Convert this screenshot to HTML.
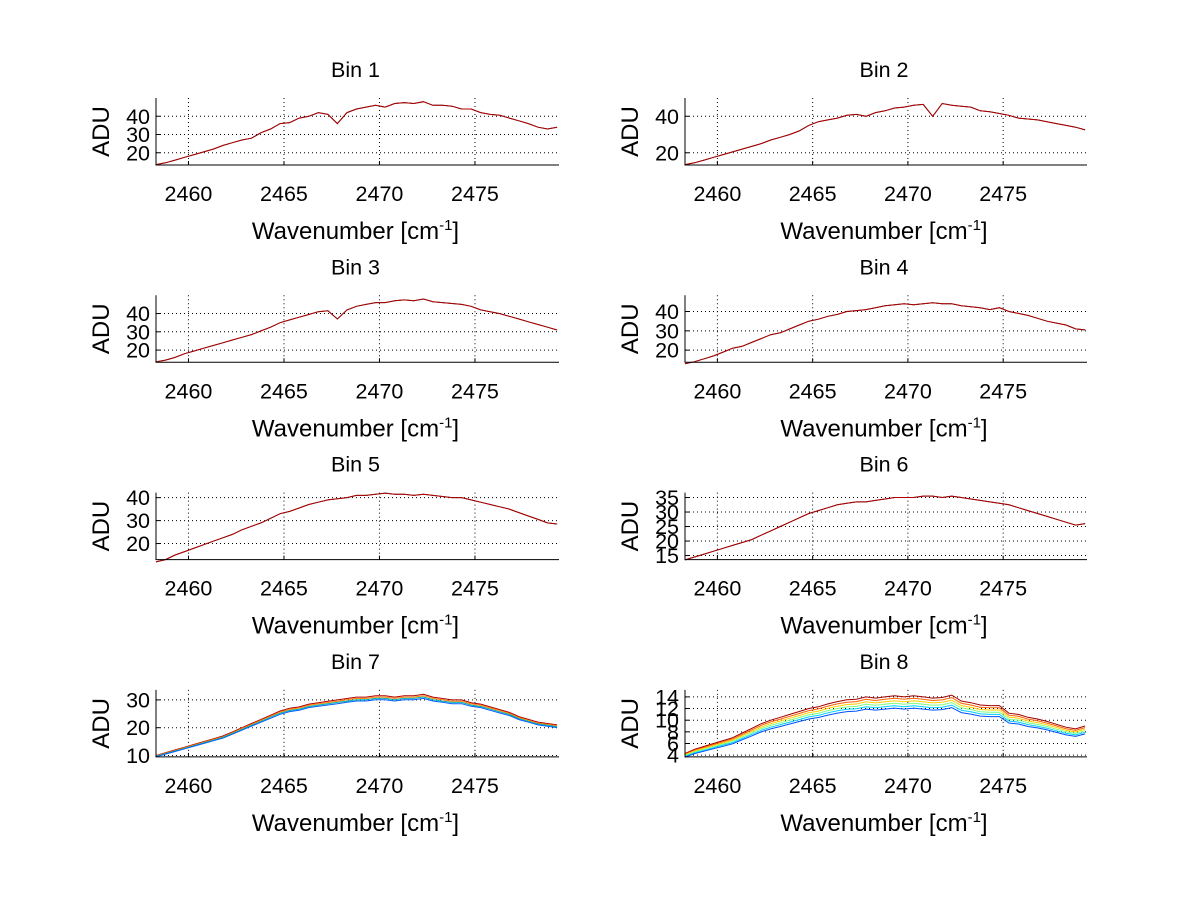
<!DOCTYPE html>
<html><head><meta charset="utf-8">
<style>
html,body{margin:0;padding:0;background:#fff;}
svg{display:block;font-family:"Liberation Sans",sans-serif;}
</style></head>
<body>
<svg id="fig" width="1200" height="901" viewBox="0 0 1200 901" xmlns="http://www.w3.org/2000/svg"></svg>
<script>
const xStart = 2458.3;
const xStep = 0.5;
const xTicks = [2460, 2465, 2470, 2475];
const bin1 = [13.5,14.5,16,17.5,19,20.5,22,24,25.5,27,28,31,33,36,36.5,39,40,42,41,36,42,44,45,46,45,47,47.5,47,48,46,46,45.5,44,44,42,41,40.5,39,37.5,36,34,33,34];
const bin2 = [13.5,14.5,16,17.5,19,20.5,22,23.5,25,27,28.5,30,32,35,37,38,39,40.5,41,40,42,43,44.5,45,46,46.5,40,47,46,45.5,45,43,42.5,41.5,40.5,39,38.5,38,37,36,35,34,32.5];
const bin3 = [13.5,14.5,16,18,19.5,21,22.5,24,25.5,27,28.5,30.5,32.5,35,36.5,38,39.5,41,41.5,37,42,44,45,46,46,47,47.5,47,48,46.5,46,45.5,45,44,42,41,40,38.5,37,35.5,34,32.5,31];
const bin4 = [13,14,15.5,17,19,21,22,24,26,28,29,31,33,35,36,37.5,38.5,40,40.5,41,42,43,43.5,44,43.5,44,44.5,44,44,43,42.5,42,41,42,40,39,38,36.5,35,34,33,31,30.5];
const bin5 = [12,13,15,16.5,18,19.5,21,22.5,24,26,27.5,29,31,33,34,35.5,37,38,39,39.5,40,41,41,41.5,42,41.5,41.5,41,41.5,41,40.5,40,40,39,38,37,36,35,33.5,32,30.5,29,28.5];
const bin6 = [13.5,14.5,15.5,16.5,17.5,18.5,19.5,20.5,22,23.5,25,26.5,28,29.5,30.5,31.5,32.5,33,33.5,33.5,34,34.5,35,35,35,35.5,35.5,35,35.5,35,34.5,34,33.5,33,32.5,31.5,30.5,29.5,28.5,27.5,26.5,25.5,26];
const bin7 = [10,11,12,13,14,15,16,17,18.5,20,21.5,23,24.5,26,27,27.5,28.5,29,29.5,30,30.5,31,31,31.5,31.5,31,31.5,31.5,32,31,30.5,30,30,29,28.5,27.5,26.5,25.5,24,23,22,21.5,21];
const bin8 = [4.3,5,5.5,6,6.5,7,7.8,8.6,9.4,10,10.5,11,11.5,12,12.3,12.8,13.2,13.5,13.6,14,13.8,14,14.2,14,14.2,14,13.8,13.9,14.3,13.3,13,12.6,12.5,12.5,11.2,11,10.5,10.2,9.8,9.3,8.8,8.5,9];
const factorsSingle = [1.0, 1.0];
const factors7 = [1.0, 0.985, 0.97, 0.955];
const factors8 = [1.0, 0.97, 0.94, 0.91, 0.88, 0.85];
const yTicks = [[20,30,40],[20,40],[20,30,40],[20,30,40],[20,30,40],[15,20,25,30,35],[10,20,30],[4,6,8,10,12,14]];
const yLims = [[13.3,50],[13.3,50],[13.3,50],[13.7,48.4],[13,42.2],[13.6,36.7],[9.5,33.6],[3.7,15.2]];

const NS = "http://www.w3.org/2000/svg";
const svg = document.getElementById('fig');
function mk(tag, attrs, parent){const e=document.createElementNS(NS,tag);for(const k in attrs)e.setAttribute(k,attrs[k]);(parent||svg).appendChild(e);return e;}

const bins = [bin1,bin2,bin3,bin4,bin5,bin6,bin7,bin8];
const factorSets = [factorsSingle,factorsSingle,factorsSingle,factorsSingle,factorsSingle,factorsSingle,factors7,factors8];
const colorsSingle = ['#222','#b00000'];
const colors7 = ['#b00000','#ff8000','#00b0b0','#0060ff'];
const colors8 = ['#a00000','#ff6000','#ffd000','#80ff80','#00d0ff','#0050ff'];
const xMin = 2458.3, xMax = 2479.4;

bins.forEach((data, b) => {
  const col = b % 2, row = Math.floor(b / 2);
  const L = col ? 685 : 156, R = col ? 1087 : 559;
  const T = 98 + row * 197.3, B = T + 67;
  const xs = v => L + (v - xMin) / (xMax - xMin) * (R - L);
  const ys = v => B - (v - yLims[b][0]) / (yLims[b][1] - yLims[b][0]) * (B - T);
  const g = mk('g', {});
  
  
  xTicks.forEach(t => {
    const l = mk('line', {x1:xs(t),x2:xs(t),y1:T,y2:B,stroke:'#000','stroke-width':1,'stroke-dasharray':'1,3'}, g);
    
    
    mk('line', {x1:xs(t),x2:xs(t),y1:B,y2:B-4,stroke:'#000'}, g);
    const tx = mk('text', {x:xs(t),y:B+36,'text-anchor':'middle','font-size':21.5}, g);
    tx.textContent = t;
    
    
  });
  yTicks[b].forEach(t => {
    const l = mk('line', {x1:L,x2:R,y1:ys(t),y2:ys(t),stroke:'#000','stroke-width':1,'stroke-dasharray':'1,3'}, g);
    
    
    mk('line', {x1:L,x2:L+4,y1:ys(t),y2:ys(t),stroke:'#000'}, g);
    const tx = mk('text', {x:L-6,y:ys(t)+7.5,'text-anchor':'end','font-size':21.5}, g);
    tx.textContent = t;
    
    
  });
  const fs = factorSets[b];
  const cols = b === 6 ? colors7 : b === 7 ? colors8 : colorsSingle;
  fs.forEach((f, s) => {
    const pts = data.map((v, i) => xs(xStart + i * xStep).toFixed(1) + ',' + ys(v * f).toFixed(1)).join(' ');
    const p = mk('polyline', {points:pts,fill:'none',stroke:cols[s],'stroke-width':1}, g);
    
    
  });
  const ax = mk('path', {d:`M${L},${T} L${L},${B} L${R},${B}`,fill:'none',stroke:'#000','stroke-width':1}, g);
  
  
  const cx = (L + R) / 2 - 2;
  const title = mk('text', {x:cx,y:T-21,'text-anchor':'middle','font-size':21.5}, g);
  title.textContent = 'Bin ' + (b+1);
  
  
  const xl = mk('text', {x:cx,y:B+74,'text-anchor':'middle','font-size':24}, g);
  xl.innerHTML = 'Wavenumber [cm<tspan dy="-9" font-size="15">-1</tspan><tspan dy="9">]</tspan>';
  
  
  const yl = mk('text', {x:0,y:0,'text-anchor':'middle','font-size':24,transform:`translate(${L-47},${(T+B)/2}) rotate(-90)`}, g);
  yl.textContent = 'ADU';
  
  
});
</script>
</body></html>
